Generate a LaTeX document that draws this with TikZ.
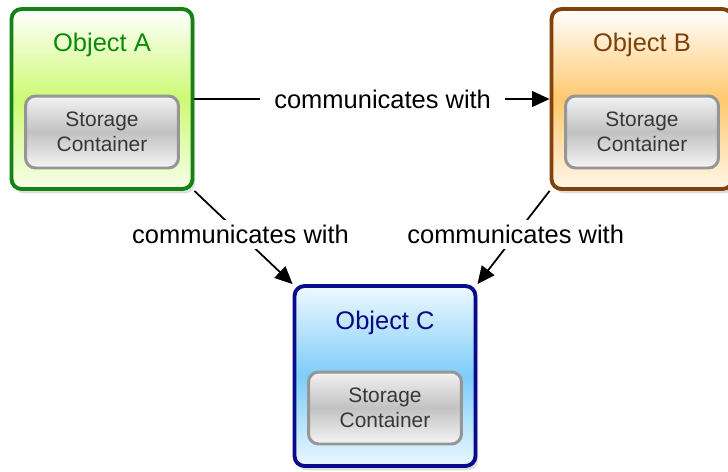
\documentclass[tikz,border=0pt]{standalone}
\usepackage{fontspec}
\setmainfont{Liberation Sans}
\usepackage{tikz}
\usetikzlibrary{arrows.meta,shadows}

\definecolor{lineA}{RGB}{20,130,20}
\definecolor{textA}{RGB}{10,140,10}
\definecolor{fillA}{RGB}{205,250,115}
\definecolor{lineB}{RGB}{130,65,10}
\definecolor{textB}{RGB}{125,65,10}
\definecolor{fillB}{RGB}{255,200,110}
\definecolor{lineC}{RGB}{10,10,140}
\definecolor{textC}{RGB}{10,10,130}
\definecolor{fillC}{RGB}{125,205,250}
\definecolor{storeline}{RGB}{150,150,150}
\definecolor{storetext}{RGB}{55,55,55}

\begin{document}
\begin{tikzpicture}[x=0.02cm, y=0.02cm]
            \tikzstyle{every node}+=[inner sep=0pt]
            \tikzstyle{object}=[draw, line width=2.2pt, rounded corners=0.2cm, minimum width=3.62cm, minimum height=3.6cm, drop shadow={shadow xshift=1.5pt, shadow yshift=-2.5pt, opacity=0.25}]
            \tikzstyle{title}=[font=\fontsize{14.5}{17}\selectfont]
            \tikzstyle{storage}=[draw=storeline, line width=1.7pt, rounded corners=0.2cm, minimum width=3.06cm, minimum height=1.44cm, top color=gray!10, bottom color=gray!8, middle color=gray!48, align=center, text=storetext, font=\fontsize{11.9}{14.2}\selectfont]
            \tikzstyle{msg}=[fill=white, inner xsep=4pt, inner ysep=3pt, font=\fontsize{14.5}{17}\selectfont]
            \tikzstyle{link}=[line width=1pt, -{Triangle[length=10pt,width=9pt]}]
            \useasboundingbox (0,0) rectangle (728,-471);
            % Object A
            \node [object, draw=lineA, top color=white, bottom color=fillA!15, middle color=fillA] (boxA) at (102,-99) {};
            \node [title, text=textA] (titleA) at (102,-45) {Object A};
            \node [storage] (storeA) at (102,-132) {Storage\\Container};
            % Object B
            \node [object, draw=lineB, top color=white, bottom color=fillB!15, middle color=fillB] (boxB) at (642,-99) {};
            \node [title, text=textB] (titleB) at (642,-45) {Object B};
            \node [storage] (storeB) at (642,-132) {Storage\\Container};
            % Object C
            \node [object, draw=lineC, top color=fillC!12, bottom color=fillC!15, middle color=fillC] (boxC) at (385,-376) {};
            \node [title, text=textC] (titleC) at (385,-323) {Object C};
            \node [storage] (storeC) at (385,-408) {Storage\\Container};
            % links
            \draw [link] (boxA.east) -- node [msg, inner xsep=8pt, pos=0.53] (msgAB) {communicates with} (boxB.west);
            \draw [link] (boxA.south east) -- node [msg, pos=0.47] (msgAC) {communicates with} (boxC.north west);
            \draw [link] (boxB.south west) -- node [msg, pos=0.47] (msgBC) {communicates with} (boxC.north east);
        \end{tikzpicture}
\end{document}
